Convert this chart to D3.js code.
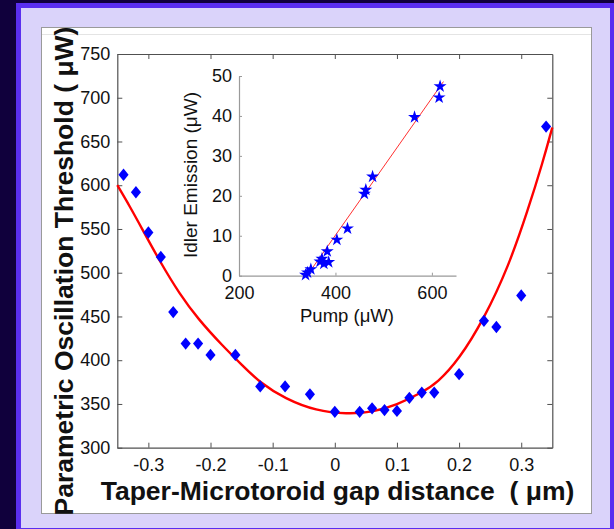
<!DOCTYPE html>
<html>
<head>
<meta charset="utf-8">
<script src="https://cdn.jsdelivr.net/npm/d3@7"></script>
<style>
  html, body { margin: 0; padding: 0; background: #10003c; }
  svg { display: block; }
  text { font-family: "Liberation Sans", Arial, sans-serif; }
</style>
</head>
<body>
<svg id="chart" width="614" height="529"></svg>
<script>
// ---------- main data: threshold vs gap ----------
const gapX = [-0.34, -0.32, -0.30, -0.28, -0.26, -0.24, -0.22, -0.20, -0.16, -0.12, -0.08, -0.04,
              0.00, 0.04, 0.06, 0.08, 0.10, 0.12, 0.14, 0.16, 0.20, 0.24, 0.26, 0.30, 0.34];
const thresholdY = [612, 592, 546, 518, 455, 419, 419, 406, 406, 370, 370, 361,
                    341, 341, 345, 343, 342, 357, 363, 363, 384, 445, 438, 474, 667];
// fitted curve
const fitX = [-0.35, -0.33, -0.31, -0.28, -0.25, -0.22, -0.18, -0.15, -0.12, -0.08, -0.03,
              0.02, 0.06, 0.10, 0.14, 0.165, 0.20, 0.24, 0.28, 0.31, 0.335, 0.35];
const fitY = [600, 576, 550, 511, 476, 447, 416, 395, 374, 356, 342,
              338.5, 340.5, 349, 363, 374, 401, 447, 508, 570, 627, 666];
const xTicks = [-0.3, -0.2, -0.1, 0, 0.1, 0.2, 0.3];
const xTickLabels = ["-0.3", "-0.2", "-0.1", "0", "0.1", "0.2", "0.3"];
const yTicks = [300, 350, 400, 450, 500, 550, 600, 650, 700, 750];

// ---------- inset data: idler vs pump ----------
const pumpX = [338, 342, 349, 368, 372, 376, 383, 386, 403, 425, 460, 463, 477, 564, 615, 617];
const idlerY = [0.2, 0.8, 1.6, 3.5, 4.2, 3.0, 6.1, 3.4, 9.0, 11.8, 20.5, 21.5, 24.8, 39.7, 44.6, 47.4];
const linePump = [341, 624];
const lineIdler = [0, 48.6];
const insetXTicks = [200, 400, 600];
const insetYTicks = [0, 10, 20, 30, 40, 50];

const svg = d3.select("#chart");

// ---------- frame ----------
svg.append("rect").attr("x", 0).attr("y", 0).attr("width", 614).attr("height", 529).attr("fill", "#10003c");
svg.append("rect").attr("x", 16).attr("y", 3).attr("width", 600).attr("height", 528).attr("fill", "#5a2ef0");
svg.append("rect").attr("x", 21).attr("y", 8).attr("width", 589).attr("height", 520).attr("fill", "#dad3fa");
svg.append("rect").attr("x", 41.5).attr("y", 27.5).attr("width", 550).attr("height", 486)
   .attr("fill", "#ffffff").attr("stroke", "#9a9a9a").attr("stroke-width", 1);
svg.append("line").attr("x1", 42).attr("x2", 591).attr("y1", 34.5).attr("y2", 34.5)
   .attr("stroke", "#e4e4e4").attr("stroke-width", 1);

// ---------- main plot ----------
const x = d3.scaleLinear().domain([-0.35, 0.35]).range([117.3, 552.3]);
const y = d3.scaleLinear().domain([300, 750]).range([447.7, 54]);

const axisColor = "#505050";
function styleAxis(g, fs) {
  g.select(".domain").attr("stroke", axisColor).attr("stroke-width", 1.2);
  g.selectAll(".tick line").attr("stroke", axisColor).attr("stroke-width", 1);
  g.selectAll(".tick text").attr("fill", "#111").style("font-size", fs + "px")
    .style("font-family", "'Liberation Sans', Arial, sans-serif");
}

const gxB = svg.append("g").attr("transform", `translate(0,${y(300)})`)
  .call(d3.axisBottom(x).tickValues(xTicks).tickFormat((d, i) => xTickLabels[i])
        .tickSizeInner(-5).tickSizeOuter(0).tickPadding(11));
styleAxis(gxB, 18);
const gxT = svg.append("g").attr("transform", `translate(0,${y(750)})`)
  .call(d3.axisTop(x).tickValues(xTicks).tickFormat("").tickSizeInner(-5).tickSizeOuter(0));
styleAxis(gxT, 18);
const gyL = svg.append("g").attr("transform", `translate(${x(-0.35)},0)`)
  .call(d3.axisLeft(y).tickValues(yTicks).tickFormat(d3.format("d"))
        .tickSizeInner(-5).tickSizeOuter(0).tickPadding(7));
styleAxis(gyL, 18);
const gyR = svg.append("g").attr("transform", `translate(${x(0.35)},0)`)
  .call(d3.axisRight(y).tickValues(yTicks).tickFormat("").tickSizeInner(-5).tickSizeOuter(0));
styleAxis(gyR, 18);

// fitted curve
svg.append("path")
  .datum(fitX.map((d, i) => [d, fitY[i]]))
  .attr("fill", "none").attr("stroke", "#ff0000").attr("stroke-width", 2.4)
  .attr("d", d3.line().x(d => x(d[0])).y(d => y(d[1])).curve(d3.curveBasis));

// diamonds
const diamondType = {
  draw(ctx, size) {
    const w = Math.sqrt(size) * 0.46, h = Math.sqrt(size) * 0.56;
    ctx.moveTo(0, -h); ctx.lineTo(w, 0); ctx.lineTo(0, h); ctx.lineTo(-w, 0); ctx.closePath();
  }
};
svg.append("g").selectAll("path")
  .data(gapX.map((d, i) => [d, thresholdY[i]]))
  .join("path")
  .attr("transform", d => `translate(${x(d[0])},${y(d[1])})`)
  .attr("d", d3.symbol(diamondType, 121))
  .attr("fill", "#0000ff");

// titles
svg.append("text")
  .attr("transform", `translate(72.5,271) rotate(-90)`)
  .attr("text-anchor", "middle")
  .style("font-size", "26.5px").style("font-weight", "bold").attr("fill", "#111")
  .style("white-space", "pre")
  .text("Parametric Oscillation Threshold ( μW)");
svg.append("text")
  .attr("x", 337.5).attr("y", 499.5)
  .attr("text-anchor", "middle")
  .style("font-size", "26.5px").style("font-weight", "bold").attr("fill", "#111")
  .style("white-space", "pre")
  .text("Taper-Microtoroid gap distance  ( μm)");

// ---------- inset ----------
const ix = d3.scaleLinear().domain([200, 650]).range([239, 456]);
const iy = d3.scaleLinear().domain([0, 50]).range([275.7, 76]);
const insetAxisColor = "#9a9a9a";
function styleInset(g) {
  g.select(".domain").attr("stroke", insetAxisColor).attr("stroke-width", 1.2);
  g.selectAll(".tick line").attr("stroke", insetAxisColor).attr("stroke-width", 1);
  g.selectAll(".tick text").attr("fill", "#111").style("font-size", "18px")
    .style("font-family", "'Liberation Sans', Arial, sans-serif");
}
const igx = svg.append("g").attr("transform", `translate(0,${iy(0)})`)
  .call(d3.axisBottom(ix).tickValues(insetXTicks).tickFormat(d3.format("d"))
        .tickSizeInner(-3).tickSizeOuter(0).tickPadding(11));
styleInset(igx);
const igy = svg.append("g").attr("transform", `translate(${ix(200)},0)`)
  .call(d3.axisLeft(iy).tickValues(insetYTicks).tickFormat(d3.format("d"))
        .tickSizeInner(-3).tickSizeOuter(0).tickPadding(7));
styleInset(igy);

svg.append("path")
  .datum(linePump.map((d, i) => [d, lineIdler[i]]))
  .attr("fill", "none").attr("stroke", "#ff3030").attr("stroke-width", 1)
  .attr("d", d3.line().x(d => ix(d[0])).y(d => iy(d[1])));

svg.append("g").selectAll("path")
  .data(pumpX.map((d, i) => [d, idlerY[i]]))
  .join("path")
  .attr("transform", d => `translate(${ix(d[0])},${iy(d[1])})`)
  .attr("d", d3.symbol(d3.symbolStar, 52))
  .attr("fill", "#0000ff");

svg.append("text")
  .attr("transform", `translate(197,175) rotate(-90)`)
  .attr("text-anchor", "middle")
  .style("font-size", "19px").attr("fill", "#111")
  .text("Idler Emission (μW)");
svg.append("text")
  .attr("x", 347).attr("y", 322)
  .attr("text-anchor", "middle")
  .style("font-size", "18.5px").attr("fill", "#111")
  .text("Pump (μW)");
</script>
</body>
</html>
